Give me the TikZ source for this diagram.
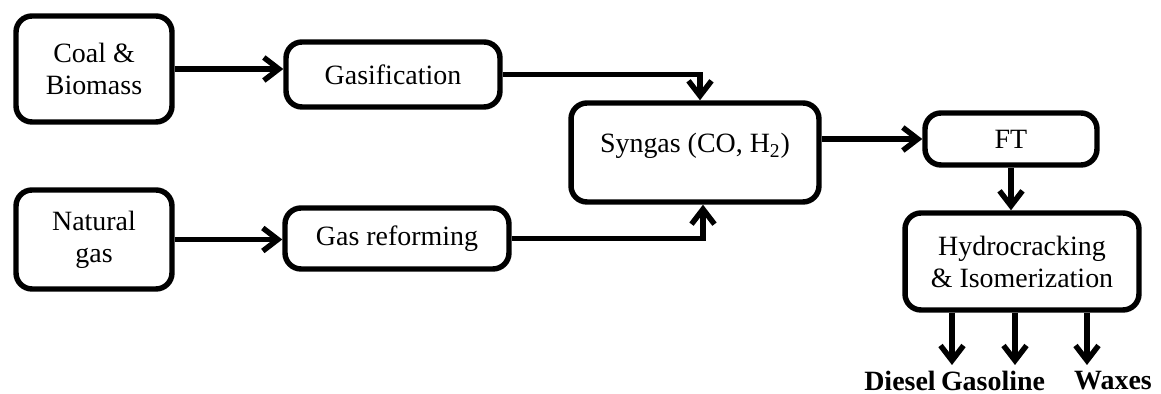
\documentclass[tikz,border=0pt]{standalone}
\usepackage{fontspec}
\setmainfont{Liberation Serif}
\usetikzlibrary{arrows.meta,positioning,calc}

\begin{document}
\begin{tikzpicture}[x=0.02cm,y=-0.02cm,
    blk/.style={draw,line width=3.1pt,rounded corners=0.32cm,align=center,inner sep=0pt,font=\fontsize{15.9}{18.2}\selectfont},
    ar/.style={-{Straight Barb[length=0.3cm,width=0.46cm]},line width=3.1pt},
    prod/.style={inner sep=0pt,font=\fontsize{15.9}{18.2}\selectfont\bfseries}]
  \useasboundingbox (0,0) rectangle (1161,394);
  % feed stocks
  \node[blk,minimum width=3.12cm,minimum height=2.12cm] (coal) at (94,69) {Coal \&\\Biomass};
  \node[blk,minimum width=3.12cm,minimum height=1.98cm] (natgas) at (94,239.5) {Natural\\gas};
  \node[blk,minimum width=4.28cm,minimum height=1.3cm] (gasif) at (393,74.5) {Gasification};
  \node[blk,minimum width=4.48cm,minimum height=1.22cm] (reform) at (397,238.5) {Gas reforming};
  \node[blk,minimum width=4.96cm,minimum height=1.98cm,text height=0.42cm,text depth=0.42cm] (syn) at (695,152.5) {Syngas (CO, H\textsubscript{2})};
  \node[blk,minimum width=3.44cm,minimum height=1.04cm] (ft) at (1011,139) {FT};
  \node[blk,minimum width=4.68cm,minimum height=1.94cm] (hyd) at (1022,261.5) {Hydrocracking\\\& Isomerization};
  % products
  \node[prod] (diesel) at (900,381) {Diesel};
  \node[prod] (gasoline) at (993,381) {Gasoline};
  \node[prod] (waxes) at (1113,381) {Waxes};
  \coordinate (tD) at (952,365);
  \coordinate (tG) at (1015,365);
  \coordinate (tW) at (1087,365);
  \draw[ar] (coal.east) -- (coal.east -| gasif.west);
  \draw[ar] (natgas.east) -- (natgas.east -| reform.west);
  \draw[ar] (gasif.east) -| ([xshift=0.1cm]syn.north);
  \draw[ar] (reform.east) -| ([xshift=0.16cm]syn.south);
  \draw[ar] (ft.west -| syn.east) -- (ft.west);
  \draw[ar] (ft.south) -- (ft.south |- hyd.north);
  \draw[ar] (hyd.south -| tD) -- (tD);
  \draw[ar] (hyd.south -| tG) -- (tG);
  \draw[ar] (hyd.south -| tW) -- (tW);
\end{tikzpicture}
\end{document}
